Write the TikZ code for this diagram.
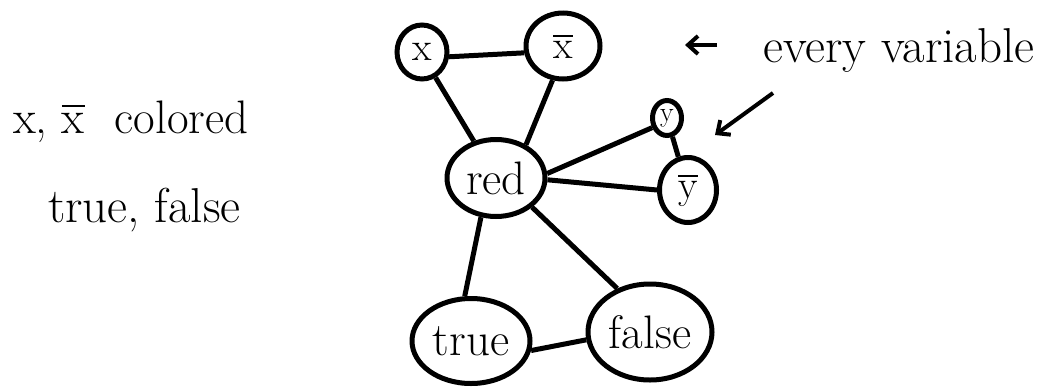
\documentclass[tikz,border=0pt]{standalone}
\usepackage{fontspec}
\usepackage{unicode-math}
\setmathfont{Latin Modern Math}
\usetikzlibrary{shapes.geometric,arrows.meta}
\newcommand{\hwbig}{\fontsize{47}{50}\selectfont}
\newcommand{\hwhuge}{\fontsize{49}{52}\selectfont}
\newcommand{\hwmid}{\fontsize{40}{44}\selectfont}
\newcommand{\hwsmall}{\fontsize{28}{30}\selectfont}
\tikzset{
  vtx/.style={draw, ellipse, line width=5pt, inner sep=0pt},
  edge/.style={line width=5pt},
  lbl/.style={inner sep=0pt, font=\hwbig},
  pointer/.style={line width=4pt, -{Straight Barb[length=10pt,width=18pt,line width=4pt]}},
}
\begin{document}
\begin{tikzpicture}[x=1pt,y=-1pt]
\useasboundingbox (0,0) rectangle (1054,386);
% vertices
\node[vtx, minimum width=50pt, minimum height=54pt, font=\hwmid] (x) at (422,52) {x};
\node[vtx, minimum width=74pt, minimum height=66pt, font=\hwmid] (xb) at (563,46) {$\overline{\mathrm{x}}$};
\node[vtx, minimum width=98pt, minimum height=77pt, font=\hwbig] (red) at (496,178) {red};
\node[vtx, minimum width=29pt, minimum height=35pt, font=\hwsmall] (y) at (667,118) {y};
\node[vtx, minimum width=57pt, minimum height=65pt, font=\hwmid] (yb) at (688,190) {$\overline{\mathrm{y}}$};
\node[vtx, minimum width=118pt, minimum height=85pt, font=\hwbig] (true) at (471,341) {true};
\node[vtx, minimum width=124pt, minimum height=96pt, font=\hwbig] (false) at (650,332) {false};
% edges
\draw[edge] (x.-10) -- (xb.190);
\draw[edge] (x.-62) -- (red.121);
\draw[edge] (xb.-107) -- (red.48);
\draw[edge] (red.5) -- (y.213);
\draw[edge] (red.-2) -- (yb.180);
\draw[edge] (y) -- (yb);
\draw[edge] (red.-111) -- (true.98);
\draw[edge] (red.-39) -- (false.127);
\draw[edge] (true.-9) -- (false.187);
% annotations
\node[lbl, anchor=base west, font=\hwhuge] (ev) at (763,62) {every variable};
\coordinate (la1) at (717,45);
\coordinate (la2) at (685,45);
\draw[pointer, line width=3.5pt] (la1) -- (la2);
\coordinate (da1) at (773,93);
\coordinate (da2) at (715,135);
\draw[pointer] (da1) -- (da2);
\node[lbl, anchor=base west] (t1) at (13,133) {x, $\overline{\mathrm{x}}$\hspace{30pt}colored};
\node[lbl, anchor=base west, font=\hwhuge] (t2) at (48,222) {true, false};
\end{tikzpicture}
\end{document}
